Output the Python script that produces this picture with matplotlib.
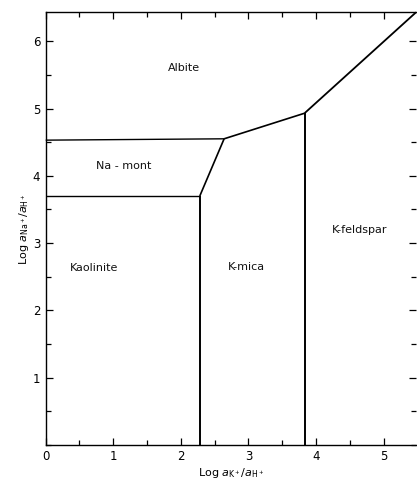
import matplotlib
matplotlib.use("Agg")
import matplotlib.pyplot as plt
from matplotlib.ticker import MultipleLocator

# Phase boundary lines (x = log aK+/aH+, y = log aNa+/aH+)
albite_namont_x = [0.0, 2.64]
albite_namont_y = [4.53, 4.55]
namont_kaol_x = [0.0, 2.28]
namont_kaol_y = [3.70, 3.70]
kaol_kmica_x = [2.28, 2.28]
kaol_kmica_y = [3.70, 0.0]
namont_kmica_x = [2.28, 2.64]
namont_kmica_y = [3.70, 4.55]
albite_kmica_x = [2.64, 3.83]
albite_kmica_y = [4.55, 4.93]
kmica_kfeld_x = [3.83, 3.83]
kmica_kfeld_y = [4.93, 0.0]
albite_kfeld_x = [3.83, 5.48]
albite_kfeld_y = [4.93, 6.43]

# Field labels
field_names = ["Albite", "Na - mont", "Kaolinite", "K-mica", "K-feldspar"]
field_x = [2.05, 1.16, 0.72, 2.97, 4.65]
field_y = [5.60, 4.14, 2.63, 2.65, 3.20]

x_ticks = [0, 1, 2, 3, 4, 5]
y_ticks = [1, 2, 3, 4, 5, 6]

fig = plt.figure(figsize=(4.17, 4.86), dpi=100)
ax = fig.add_axes([0.1096, 0.0844, 0.8881, 0.8903])
ax.set_xlim(0, 5.48)
ax.set_ylim(0, 6.43)

segs = [
    (albite_namont_x, albite_namont_y, 1.0),
    (namont_kaol_x, namont_kaol_y, 1.0),
    (kaol_kmica_x, kaol_kmica_y, 1.4),
    (namont_kmica_x, namont_kmica_y, 1.2),
    (albite_kmica_x, albite_kmica_y, 1.2),
    (kmica_kfeld_x, kmica_kfeld_y, 1.4),
    (albite_kfeld_x, albite_kfeld_y, 1.3),
]
for xs, ys, lw in segs:
    ax.plot(xs, ys, color="black", lw=lw, solid_capstyle="butt", clip_on=False)

for name, x, y in zip(field_names, field_x, field_y):
    ax.text(x, y, name, ha="center", va="center", fontsize=8, color="#111111")

ax.set_xticks(x_ticks)
ax.set_yticks(y_ticks)
ax.xaxis.set_minor_locator(MultipleLocator(0.5))
ax.yaxis.set_minor_locator(MultipleLocator(0.5))
ax.tick_params(which="both", direction="in", top=True, right=True,
               labelsize=8.5, width=0.9, colors="black")
ax.tick_params(which="major", length=5)
ax.tick_params(which="minor", length=3.5)
ax.tick_params(axis="y", which="both", labelright=False, pad=4)
ax.spines["right"].set_visible(False)
for s in ["left", "bottom", "top"]:
    ax.spines[s].set_linewidth(1.0)

ax.set_xlabel(r"Log $a_{\mathrm{K}^+}/a_{\mathrm{H}^+}$", fontsize=8, labelpad=2)
ax.set_ylabel(r"Log $a_{\mathrm{Na}^+}/a_{\mathrm{H}^+}$", fontsize=8, labelpad=1)

fig.savefig("out.png", dpi=100)
